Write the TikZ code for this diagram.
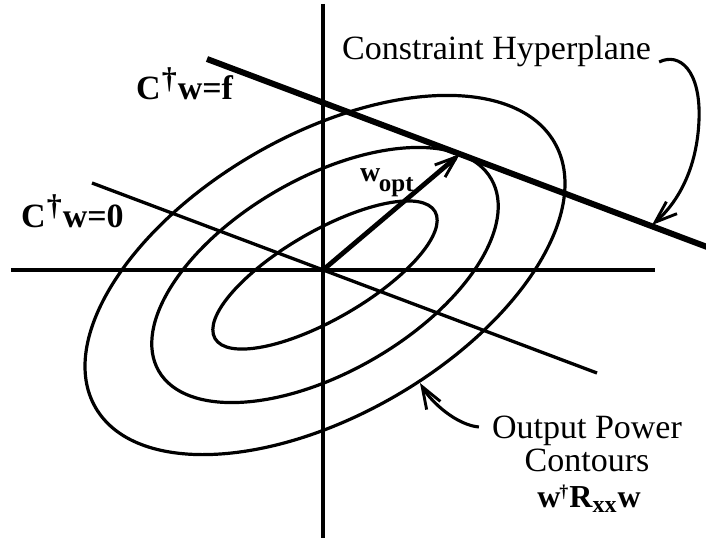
\documentclass[tikz,border=0pt]{standalone}
\usepackage{fontspec}
\setmainfont{Liberation Serif}
\usetikzlibrary{arrows.meta}
\newcommand\bigdag{\raisebox{12pt}{\fontsize{30}{30}\selectfont\bfseries †}}
\newcommand\smalldag{\raisebox{10pt}{\fontsize{18}{18}\selectfont\bfseries †}}
\begin{document}
\begin{tikzpicture}[x=1pt,y=1pt,
  axis/.style={line width=3.1pt},
  contour/.style={line width=3.2pt},
  nullline/.style={line width=3.3pt},
  hyper/.style={line width=6pt},
  barb/.style={-{Straight Barb[length=22pt,width=16pt,line width=2.9pt]}},
  vec/.style={line width=4.8pt,barb},
  callout/.style={line width=3.1pt,barb},
  lab/.style={inner sep=0pt,font=\fontsize{34}{36}\selectfont},
  blab/.style={inner sep=0pt,font=\fontsize{34}{36}\selectfont\bfseries}]
\useasboundingbox (-323,-274) rectangle (383,270);
% named points
\coordinate (O) at (0,0);
\coordinate (vt) at (0,266);
\coordinate (vb) at (0,-268);
\coordinate (hl) at (-312,0);
\coordinate (hr) at (332,0);
\coordinate (n0a) at (-231,87);
\coordinate (n0b) at (274,-103);
\coordinate (hs) at (-116,211);
\coordinate (he) at (386,22.3);
\coordinate (T) at (136.9,115.9);
\coordinate (hptip) at (329,45);
\coordinate (ctip) at (97,-113);
% axes
\draw[axis] (vt) -- (vb);
\draw[axis] (hl) -- (hr);
% contours
\begin{scope}[shift={(2,-5)},rotate=30]
  \draw[contour] (0,0) ellipse [x radius=127pt, y radius=44pt];
  \draw[contour] (0,0) ellipse [x radius=192pt, y radius=97pt];
  \draw[contour] (0,0) ellipse [x radius=265pt, y radius=140pt];
\end{scope}
% constraint lines
\draw[nullline] (n0a) -- (n0b);
\draw[hyper] (hs) -- (he);
% w_opt
\draw[vec] (O) -- (T);
% labels
\node[blab,anchor=base west] (cwf) at (-187,170) {C\kern1pt\bigdag\kern1pt w=f};
\node[blab,anchor=base west] (cw0) at (-302,43) {C\kern1pt\bigdag\kern1pt w=0};
\node[lab,anchor=base west] (ch) at (19,210) {Constraint Hyperplane};
\node[inner sep=0pt,anchor=base west,font=\fontsize{28}{30}\selectfont\bfseries] (wopt) at (37,89) {w\kern-1.5pt\raisebox{-10pt}{\fontsize{25}{26}\selectfont opt}};
\node[lab,anchor=base] (op1) at (264,-168) {Output Power};
\node[lab,anchor=base] (op2) at (264,-201) {Contours};
\node[inner sep=0pt,anchor=base,font=\fontsize{32}{34}\selectfont\bfseries] (op3) at (266,-237) {w\kern-1pt\smalldag\kern1pt R\raisebox{-5pt}{\fontsize{24}{24}\selectfont xx}\kern1pt w};
% callouts
\draw[callout] ([shift={(8pt,-2pt)}]ch.base east) .. controls +(20,10) and +(2,50) .. (376,150)
   .. controls +(-2,-50) and +(25,22) .. (hptip);
\draw[callout] ([shift={(-13pt,11pt)}]op1.base west) .. controls +(-22,2) and +(12,-20) .. (ctip);
\end{tikzpicture}
\end{document}
